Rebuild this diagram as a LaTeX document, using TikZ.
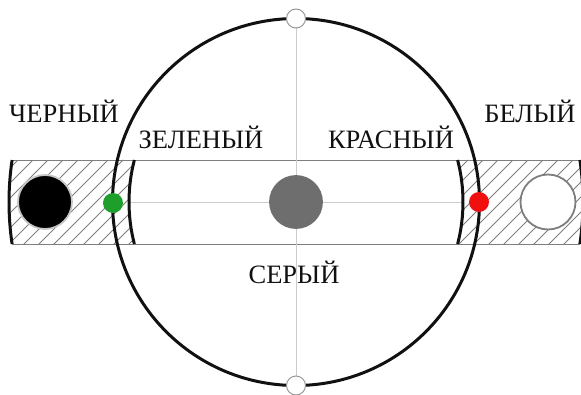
\documentclass[tikz,border=0pt]{standalone}
\usepackage{fontspec}
\setmainfont{Liberation Serif}
\usetikzlibrary{positioning}
\definecolor{Ink}  {HTML}{111111}
\definecolor{HGray}{HTML}{7E7E7E}
\definecolor{AGray}{HTML}{CCCCCC}
\definecolor{DGray}{HTML}{6E6E6E}
\definecolor{Grn}  {HTML}{1E9E2A}
\definecolor{Rd}   {HTML}{F01010}
\tikzset{
  rim/.style={draw=Ink, line width=3pt},
  bandln/.style={draw=HGray, line width=0.9pt},
  axisln/.style={draw=AGray, line width=0.8pt},
  hatchln/.style={draw=HGray, line width=0.9pt},
  disc/.style args={#1/#2}{
    circle, draw=#1, fill=#2,
    inner sep=0pt, line width=1.8pt,
  },
  dot/.style args={#1}{
    circle, fill=#1, inner sep=0pt, minimum size=20pt,
  },
  knob/.style={
    circle, draw=HGray!80, fill=white,
    line width=1pt, inner sep=0pt, minimum size=19pt,
  },
  lbl/.style={
    font=\fontsize{26.5}{30}\selectfont, text=Ink,
    anchor=base, inner sep=0pt,
  },
}
\begin{document}
\begin{tikzpicture}[x=1pt,y=1pt]
  \useasboundingbox (-296,-192) rectangle (285,202);
  % hatched ends of the band
  \begin{scope}
    \clip (171.59:287pt) arc[start angle=171.59, end angle=188.41, radius=287pt]
      -- (194.57:167pt) arc[start angle=194.57, end angle=165.43, radius=167pt] -- cycle;
    \foreach \i in {-400,-385,...,-150} \draw[hatchln] (\i,-50) -- ++(100,100);
  \end{scope}
  \begin{scope}
    \clip (-8.41:287pt) arc[start angle=-8.41, end angle=8.41, radius=287pt]
      -- (14.57:167pt) arc[start angle=14.57, end angle=-14.57, radius=167pt] -- cycle;
    \foreach \i in {50,65,...,300} \draw[hatchln] (\i,-50) -- ++(100,100);
  \end{scope}
  \draw[bandln] (171.59:287pt) -- (8.41:287pt);
  \draw[bandln] (188.41:287pt) -- (-8.41:287pt);
  % axes
  \coordinate (ntop) at (0,183.5);
  \coordinate (nbot) at (0,-183.5);
  \coordinate (lin) at (180:167pt);
  \coordinate (rin) at (0:167pt);
  \draw[axisln] (ntop) -- (nbot);
  \draw[axisln] (lin) -- (rin);
  % circle and arcs
  \draw[rim] (0,0) circle[radius=183.5pt];
  \draw[rim] (165.43:167pt) arc[start angle=165.43, end angle=194.57, radius=167pt];
  \draw[rim] (-14.57:167pt) arc[start angle=-14.57, end angle=14.57, radius=167pt];
  \draw[rim] (171.59:287pt) arc[start angle=171.59, end angle=188.41, radius=287pt];
  \draw[rim] (-8.41:287pt) arc[start angle=-8.41, end angle=8.41, radius=287pt];
  % discs
  \node[disc=gray!45/black, minimum size=54pt] (black) at (-251,0) {};
  \node[disc=HGray/white, minimum size=55pt] (white) at (252,0) {};
  \node[disc=DGray/DGray, minimum size=52pt] (gray) at (0,0) {};
  \node[dot=Grn] (green) at (-183,-1) {};
  \node[dot=Rd] (red) at (183,0) {};
  \node[knob] (ktop) at (ntop) {};
  \node[knob] (kbot) at (nbot) {};
  % labels
  \node[lbl] (lblack) at (-232,80) {ЧЕРНЫЙ};
  \node[lbl] (lgreen) at (-95,54) {ЗЕЛЕНЫЙ};
  \node[lbl] (lred)   at (95,54)  {КРАСНЫЙ};
  \node[lbl] (lwhite) at (234,80) {БЕЛЫЙ};
  \node[lbl] (lgray)  at (-2,-81) {СЕРЫЙ};
\end{tikzpicture}
\end{document}
